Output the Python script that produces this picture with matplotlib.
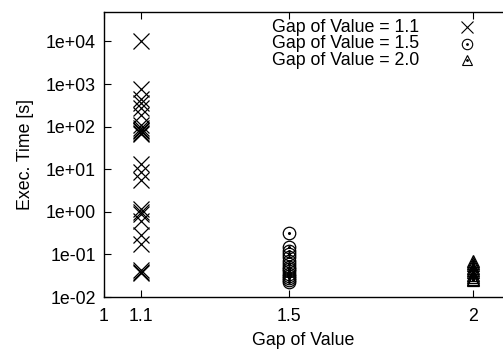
import matplotlib
matplotlib.use("Agg")
import matplotlib.pyplot as plt
from matplotlib.ticker import FixedLocator, FixedFormatter, NullLocator

plt.rcParams["font.family"] = ["Liberation Sans", "DejaVu Sans"]

# ── data ─────────────────────────────────────────────────────────────────────
gap_11 = [1e4, 750, 450, 350, 270, 190, 110, 95, 85, 78, 72, 68,
          13.5, 8.5, 5.5, 1.15, 1.0, 0.9, 0.6, 0.28, 0.18, 0.042, 0.039, 0.037]
gap_15 = [0.32, 0.15, 0.12, 0.1, 0.085, 0.07, 0.06, 0.052, 0.046, 0.04,
          0.035, 0.031, 0.028, 0.025, 0.023]
gap_20 = [0.07, 0.062, 0.055, 0.048, 0.043, 0.038, 0.033, 0.03, 0.027, 0.025]

# label, x, values, marker, size in plot, size in key
series = [
    ("Gap of Value = 1.1", 1.1, gap_11, "x", 11, 8),
    ("Gap of Value = 1.5", 1.5, gap_15, "o", 9, 7.5),
    ("Gap of Value = 2.0", 2.0, gap_20, "^", 8, 7.5),
]

x_ticks = [1, 1.1, 1.5, 2]
x_labels = ["1", "1.1", "1.5", "2"]
y_ticks = [1e-2, 1e-1, 1e0, 1e1, 1e2, 1e3, 1e4]
y_labels = ["1e-02", "1e-01", "1e+00", "1e+01", "1e+02", "1e+03", "1e+04"]

FS = 12.8

# ── figure ───────────────────────────────────────────────────────────────────
fig = plt.figure(figsize=(5.03, 3.5), dpi=100)
ax = fig.add_axes([0.2068, 0.1514, 0.7932, 0.8143])

for i, (label, xv, vals, mk, ms, ks) in enumerate(series):
    ax.plot([xv] * len(vals), vals, linestyle="none", marker=mk,
            markersize=ms, markeredgewidth=0.9, markerfacecolor="none",
            color="black")
    if mk != "x":
        # gnuplot-style centre dot
        ax.plot([xv] * len(vals), vals, linestyle="none", marker="o",
                markersize=1.2, color="black")
    # legend row: text left, marker right
    ty = 1.0 - (27 + 16.5 * i - 12) / 285
    ax.text(0.421, ty, label, transform=ax.transAxes, fontsize=FS,
            ha="left", va="center")
    ax.plot([0.91], [ty], transform=ax.transAxes, marker=mk,
            markersize=ks, markeredgewidth=0.8, markerfacecolor="none",
            color="black", clip_on=False)
    if mk != "x":
        ax.plot([0.91], [ty], transform=ax.transAxes, marker="o",
                markersize=1.0, color="black", clip_on=False)

ax.set_yscale("log")
ax.set_xlim(1, 2.08)
ax.set_ylim(1e-2, 4.9e4)

ax.xaxis.set_major_locator(FixedLocator(x_ticks))
ax.xaxis.set_major_formatter(FixedFormatter(x_labels))
ax.yaxis.set_major_locator(FixedLocator(y_ticks))
ax.yaxis.set_major_formatter(FixedFormatter(y_labels))
ax.yaxis.set_minor_locator(NullLocator())

ax.tick_params(direction="in", length=5, width=0.8, labelsize=FS,
               top=True, right=False, pad=6)
ax.tick_params(axis="x", pad=8)
for s in ax.spines.values():
    s.set_linewidth(1.0)
ax.spines["right"].set_visible(False)

ax.set_xlabel("Gap of Value", fontsize=FS, labelpad=5)
ax.set_ylabel("Exec. Time [s]", fontsize=FS, labelpad=8)

fig.savefig("out.png", dpi=100)
